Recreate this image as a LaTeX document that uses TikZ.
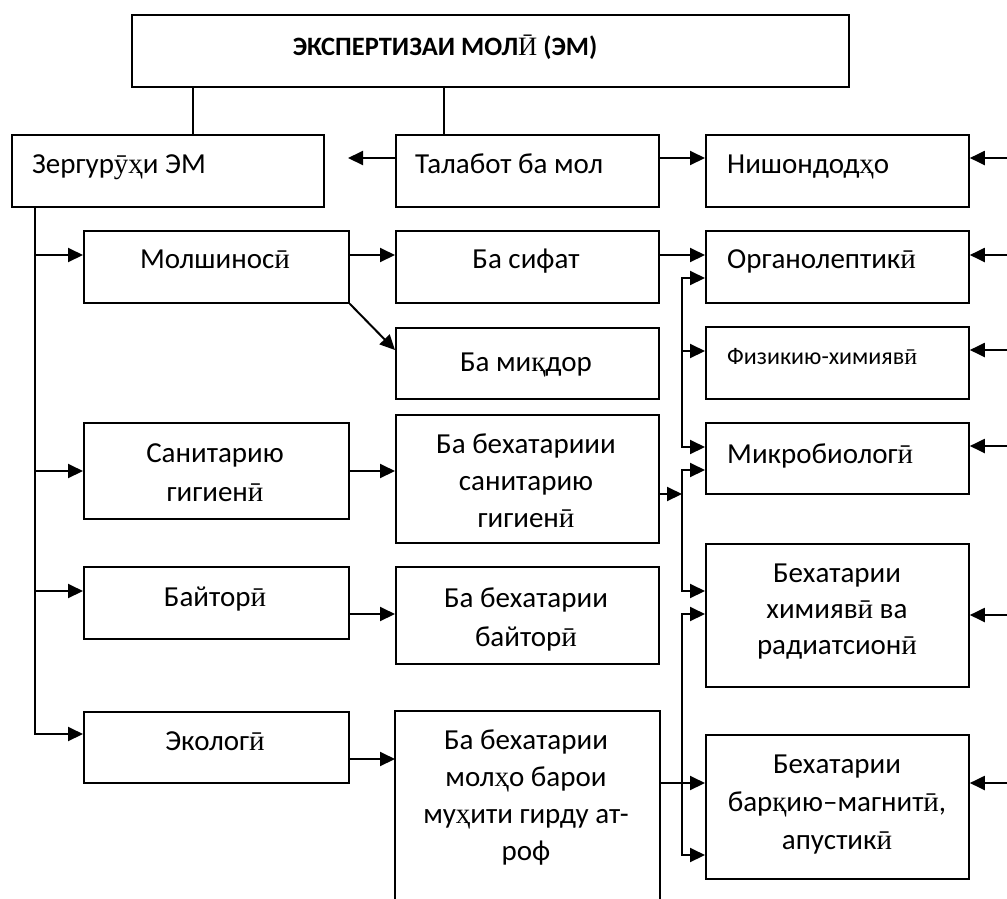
\documentclass[tikz,border=0pt]{standalone}
\usepackage{fontspec}
\setmainfont{Carlito}
\newfontfamily\sr{Liberation Serif}
\usetikzlibrary{arrows.meta}
\newcommand\tjI{{\sr ӣ}}
\newcommand\tjH{{\sr ҳ}}
\newcommand\tjQ{{\sr қ}}
\newcommand\tjU{{\sr ӯ}}
\begin{document}
\begin{tikzpicture}[x=1pt,y=-1pt,
  box/.style={draw, line width=1.8pt, anchor=north west, inner sep=0pt},
  con/.style={line width=2pt},
  arr/.style={line width=2pt, -{Triangle[length=15pt,width=14pt]}},
  txt/.style={font=\fontsize{29}{37}\selectfont, inner sep=0pt, align=center},
]
\useasboundingbox (0,0) rectangle (1007,898);
% boxes
\node[box, minimum width=717pt, minimum height=72pt] (top) at (131,14) {};
\node[box, minimum width=312pt, minimum height=72pt] (zerg) at (11,134) {};
\node[box, minimum width=263pt, minimum height=72pt] (talab) at (395,134) {};
\node[box, minimum width=263pt, minimum height=72pt] (nish) at (705,134) {};
\node[box, minimum width=265pt, minimum height=72pt] (molsh) at (83,230) {};
\node[box, minimum width=263pt, minimum height=72pt] (sifat) at (395,230) {};
\node[box, minimum width=263pt, minimum height=72pt] (organ) at (705,230) {};
\node[box, minimum width=263pt, minimum height=71pt] (miqdor) at (395,327) {};
\node[box, minimum width=263pt, minimum height=72pt] (fiz) at (705,326) {};
\node[box, minimum width=265pt, minimum height=96pt] (sanit) at (83,422) {};
\node[box, minimum width=263pt, minimum height=128pt] (besan) at (395,414) {};
\node[box, minimum width=263pt, minimum height=71pt] (mikro) at (705,422) {};
\node[box, minimum width=265pt, minimum height=72pt] (bayt) at (83,566) {};
\node[box, minimum width=263pt, minimum height=97pt] (bebayt) at (395,566) {};
\node[box, minimum width=263pt, minimum height=143pt] (bexim) at (705,543) {};
\node[box, minimum width=265pt, minimum height=71pt] (ekol) at (83,711) {};
\node[box, draw=none, minimum width=263pt, minimum height=187pt] (bemol) at (395,711) {};
\draw[line width=1.8pt] (bemol.south west) |- (bemol.north east) -- (bemol.south east);
\node[box, minimum width=263pt, minimum height=144pt] (bbar) at (705,734) {};
% helper coordinates
\coordinate (xa) at (193,0);
\coordinate (xb) at (444,0);
\coordinate (xl) at (35,0);
\coordinate (xv) at (682,0);
\coordinate (xr) at (1007,0);
\coordinate (tz) at (348,158);
\foreach \yy in {158,255,278,350,351,446,447,470,471,494,591,614,615,734,759,783,855}
  {\coordinate (y\yy) at (0,\yy);}
% connectors
\draw[con] (top.south -| xa) -- (zerg.north -| xa);
\draw[con] (top.south -| xb) -- (talab.north -| xb);
\draw[arr] (talab.west |- y158) -- (tz);
\draw[arr] (talab.east |- y158) -- (nish.west |- y158);
\draw[arr] (xr |- y158) -- (nish.east |- y158);
\draw[arr] (zerg.south -| xl) -- (xl |- y734) -- (ekol.west |- y734);
\draw[arr] (xl |- y255) -- (molsh.west |- y255);
\draw[arr] (xl |- y471) -- (sanit.west |- y471);
\draw[arr] (xl |- y591) -- (bayt.west |- y591);
\draw[arr] (molsh.east |- y255) -- (sifat.west |- y255);
\draw[arr] (sifat.east |- y255) -- (organ.west |- y255);
\draw[arr] (molsh.south east) -- (miqdor.west |- y350);
\draw[arr] (sanit.east |- y471) -- (besan.west |- y471);
\draw[arr] (bayt.east |- y614) -- (bebayt.west |- y614);
\draw[arr] (ekol.east |- y759) -- (bemol.west |- y759);
% vertical bus 1
\draw[arr] (xv |- y447) -- (xv |- y278) -- (organ.west |- y278);
\draw[arr] (xv |- y351) -- (fiz.west |- y351);
\draw[arr] (xv |- y351) -- (xv |- y447) -- (mikro.west |- y447);
% vertical bus 2
\draw[arr] (xv |- y591) -- (xv |- y470) -- (mikro.west |- y470);
\draw[arr] (xv |- y494) -- (xv |- y591) -- (bexim.west |- y591);
\draw[arr] (besan.east |- y494) -- (xv |- y494);
% vertical bus 3
\draw[arr] (xv |- y855) -- (xv |- y614) -- (bexim.west |- y614);
\draw[arr] (xv |- y783) -- (xv |- y855) -- (bbar.west |- y855);
\draw[arr] (bemol.east |- y783) -- (bbar.west |- y783);
% arrows from the right edge
\draw[arr] (xr |- y255) -- (organ.east |- y255);
\draw[arr] (xr |- y350) -- (fiz.east |- y350);
\draw[arr] (xr |- y446) -- (mikro.east |- y446);
\draw[arr] (xr |- y615) -- (bexim.east |- y615);
\draw[arr] (xr |- y783) -- (bbar.east |- y783);
% texts (base anchor = baseline of the last line)
\node[txt, font=\bfseries\fontsize{26.5}{32}\selectfont, anchor=base] (ttitle) at (445,55) {ЭКСПЕРТИЗАИ МОЛ{\mdseries\sr Ӣ} (ЭМ)};
\node[txt, anchor=base west] (tzerg) at (32,173) {Зергур\tjU\tjH и ЭМ};
\node[txt, anchor=base west] (ttalab) at (415,173) {Талабот ба мол};
\node[txt, anchor=base west] (tnish) at (727,173) {Нишондод\tjH о};
\node[txt, anchor=base] (tmolsh) at (215,268) {Молшинос\tjI};
\node[txt, anchor=base] (tsifat) at (526,268) {Ба сифат};
\node[txt, anchor=base west] (torgan) at (727,268) {Органолептик\tjI};
\node[txt, anchor=base] (tmiqdor) at (526,371) {Ба ми\tjQ дор};
\node[txt, font=\fontsize{24}{30}\selectfont, anchor=base west] (tfiz) at (727,364) {Физикию-химияв\tjI};
\node[txt, anchor=base west] (tmikro) at (727,463) {Микробиолог\tjI};
\node[txt, font=\fontsize{29}{39}\selectfont, anchor=base] (tsanit) at (215,501) {Санитарию\\гигиен\tjI};
\node[txt, anchor=base] (tbesan) at (526,527) {Ба бехатариии\\санитарию\\гигиен\tjI};
\node[txt, anchor=base] (tbayt) at (215,606) {Байтор\tjI};
\node[txt, font=\fontsize{29}{39}\selectfont, anchor=base] (tbebayt) at (526,646) {Ба бехатарии\\байтор\tjI};
\node[txt, anchor=base] (tekol) at (215,750) {Эколог\tjI};
\node[txt, anchor=base] (tbemol) at (526,860) {Ба бехатарии\\мол\tjH о барои\\му\tjH ити гирду ат-\\роф};
\node[txt, font=\fontsize{29}{36}\selectfont, anchor=base] (tbexim) at (837,654) {Бехатарии\\химияв\tjI\ ва\\радиатсион\tjI};
\node[txt, font=\fontsize{29}{38}\selectfont, anchor=base] (tbbar) at (837,849) {Бехатарии\\бар\tjQ ию–магнит\tjI,\\апустик\tjI};
\end{tikzpicture}
\end{document}
